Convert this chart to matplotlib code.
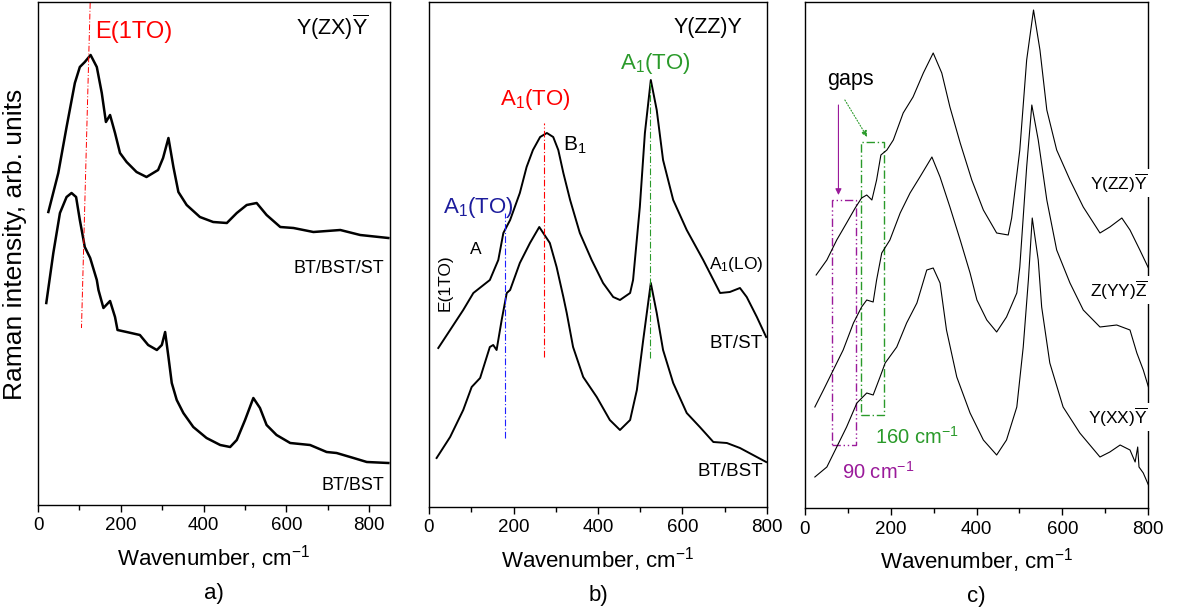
import matplotlib
matplotlib.use("Agg")
import matplotlib.pyplot as plt
from matplotlib.patches import Rectangle
from matplotlib.ticker import MultipleLocator, NullLocator

plt.rcParams["font.family"] = ["Liberation Sans", "DejaVu Sans"]
plt.rcParams["mathtext.fontset"] = "custom"
plt.rcParams["mathtext.rm"] = "Liberation Sans"
plt.rcParams["mathtext.it"] = "Liberation Sans:italic"
plt.rcParams["mathtext.bf"] = "Liberation Sans:bold"

# ---- panel a: Y(ZX)Ybar ----
a_top_x = [25, 49, 69, 89, 101, 113, 127, 142, 154, 164, 174, 186, 198, 214, 238, 262,
           290, 302, 315, 327, 339, 359, 391, 423, 456, 480, 504, 528, 552, 585, 617,
           665, 730, 778, 846]
a_top_y = [293, 332, 378, 422, 438, 443, 450, 438, 412, 383, 390, 372, 352, 343, 333, 328,
           335, 347, 367, 338, 313, 300, 288, 283, 282, 292, 300, 302, 290, 278, 277,
           273, 275, 270, 267]
a_bot_x = [20, 37, 53, 69, 81, 92, 101, 113, 126, 142, 146, 158, 174, 186, 192, 214, 246,
           266, 287, 299, 307, 315, 323, 335, 351, 375, 407, 440, 464, 480, 500, 520,
           536, 552, 576, 609, 657, 697, 721, 762, 794, 846]
a_bot_y = [202, 252, 292, 308, 312, 308, 285, 258, 247, 225, 215, 197, 204, 188, 175, 173,
           170, 160, 155, 160, 173, 148, 122, 105, 92, 78, 67, 60, 58, 65, 85, 107,
           97, 80, 70, 62, 60, 53, 52, 47, 43, 42]
a_mark_x = [126, 105]
a_mark_y = [502, 177]

# ---- panel b: Y(ZZ)Y ----
b_top_x = [22, 50, 81, 105, 144, 164, 176, 192, 215, 231, 246, 263, 279, 294, 306, 318,
           334, 357, 385, 412, 436, 452, 476, 483, 499, 511, 525, 539, 554, 578, 610,
           649, 689, 712, 736, 752, 776, 798]
b_top_y = [159, 177, 197, 214, 227, 247, 274, 287, 314, 340, 357, 370, 374, 370, 357, 334,
           307, 274, 247, 224, 210, 207, 214, 227, 300, 374, 427, 397, 347, 307, 277,
           247, 214, 215, 219, 210, 190, 170]
b_bot_x = [18, 50, 81, 101, 121, 144, 152, 160, 172, 184, 192, 215, 239, 261, 286, 302,
           318, 326, 341, 365, 397, 428, 452, 476, 492, 507, 525, 539, 554, 578, 610,
           641, 673, 705, 736, 798]
b_bot_y = [49, 70, 97, 120, 129, 160, 162, 157, 187, 214, 217, 244, 264, 280, 264, 240,
           210, 194, 160, 130, 110, 87, 77, 87, 117, 167, 224, 194, 157, 124, 94,
           80, 65, 64, 59, 45]
b_marks = [(181, 69, 294, "#1f1fff"), (273, 150, 384, "red"), (522, 149, 424, "#2a9a2a")]

# ---- panel c: three geometries ----
c_zz_x = [26, 51, 74, 97, 117, 132, 144, 156, 167, 177, 191, 206, 229, 252, 276, 299,
          319, 338, 362, 389, 416, 447, 474, 482, 501, 517, 533, 548, 564, 587, 618,
          649, 688, 711, 739, 758, 781, 801]
c_zz_y = [233, 248, 268, 285, 300, 310, 313, 308, 328, 353, 358, 368, 395, 411, 435, 455,
          435, 401, 365, 328, 298, 275, 273, 290, 358, 448, 498, 458, 398, 358, 328,
          301, 275, 281, 290, 278, 258, 240]
c_yy_x = [23, 43, 66, 89, 113, 132, 144, 159, 167, 179, 198, 222, 245, 268, 296, 315,
          338, 362, 385, 401, 424, 447, 470, 494, 501, 517, 529, 544, 564, 587, 618,
          649, 688, 727, 758, 774, 789, 801]
c_yy_y = [101, 118, 138, 158, 185, 201, 208, 206, 228, 255, 268, 295, 315, 331, 351, 331,
          301, 268, 235, 208, 188, 176, 191, 215, 241, 341, 403, 368, 308, 258, 225,
          198, 181, 183, 178, 155, 138, 121]
c_xx_x = [23, 51, 74, 97, 121, 144, 159, 175, 187, 214, 237, 261, 284, 299, 315, 330,
          354, 385, 416, 447, 470, 494, 509, 521, 530, 544, 552, 571, 602, 641, 688,
          711, 735, 758, 770, 776, 779, 789, 801]
c_xx_y = [31, 41, 61, 81, 105, 115, 113, 131, 145, 161, 185, 205, 238, 240, 225, 178,
          131, 95, 68, 53, 68, 101, 161, 228, 290, 248, 201, 145, 101, 75, 51,
          56, 63, 58, 46, 61, 41, 35, 23]
gap90 = (64, 118, 63, 308)     # x0, x1, y0, y1
gap160 = (131, 185, 93, 366)

W, H = 1190, 611
fig = plt.figure(figsize=(W / 100, H / 100), dpi=100)


def px_axes(x0, x1, y_top, y_bot):
    return fig.add_axes([x0 / W, 1 - y_bot / H, (x1 - x0) / W, (y_bot - y_top) / H])


def style(ax, xmax, ymax, label):
    ax.set_xlim(0, xmax)
    ax.set_ylim(0, ymax)
    ax.xaxis.set_major_locator(MultipleLocator(200))
    ax.xaxis.set_minor_locator(MultipleLocator(100))
    ax.yaxis.set_major_locator(NullLocator())
    ax.tick_params(axis="x", which="major", direction="out", length=5, width=1,
                   labelsize=13.5, pad=4)
    ax.tick_params(axis="x", which="minor", direction="out", length=3.5, width=1)
    for s in ax.spines.values():
        s.set_linewidth(1.0)
    ax.set_xlabel("Wavenumber, cm$^{-1}$", fontsize=16, labelpad=6)
    ax.text(0.5, -0.175, label, transform=ax.transAxes, ha="center", va="center",
            fontsize=16)


# panel a
axa = px_axes(38, 390, 2, 505)
style(axa, 850, 503, "a)")
axa.plot(a_top_x, a_top_y, color="k", lw=1.8)
axa.plot(a_bot_x, a_bot_y, color="k", lw=1.8)
axa.plot(a_mark_x, a_mark_y, color="red", lw=0.7, ls=(0, (6, 2, 1, 2)))
axa.text(138, 473, "E(1TO)", color="red", fontsize=17, ha="left", va="center")
axa.text(622, 478, r"Y(ZX)$\overline{\mathrm{Y}}$", fontsize=15.5, ha="left", va="center")
axa.text(835, 237, "BT/BST/ST", fontsize=13, ha="right", va="center")
axa.text(835, 20, "BT/BST", fontsize=13, ha="right", va="center")
fig.text(15 / W, 1 - 244 / H, "Raman intensity, arb. units", rotation=90,
         ha="center", va="center", fontsize=19)

# panel b
axb = px_axes(429, 767, 2, 507)
style(axb, 800, 505, "b)")
axb.plot(b_top_x, b_top_y, color="k", lw=1.4)
axb.plot(b_bot_x, b_bot_y, color="k", lw=1.4)
for xm, y0, y1, col in b_marks:
    axb.plot([xm, xm], [y0, y1], color=col, lw=0.8, ls=(0, (6, 2, 1, 2)))
axb.text(578, 479, "Y(ZZ)Y", fontsize=15.5, ha="left", va="center")
axb.text(452, 444, "A$_1$(TO)", color="#2a9a2a", fontsize=16, ha="left", va="center")
axb.text(167, 407, "A$_1$(TO)", color="red", fontsize=16, ha="left", va="center")
axb.text(318, 362, "B$_1$", fontsize=15, ha="left", va="center")
axb.text(33, 299, "A$_1$(TO)", color="#1c1c9c", fontsize=16, ha="left", va="center")
axb.text(110, 257, "A", fontsize=12.5, ha="center", va="center")
axb.text(37, 224, "E(1TO)", fontsize=12.5, rotation=90, ha="center", va="center")
axb.text(792, 242, "A$_1$(LO)", fontsize=12.5, ha="right", va="center")
axb.text(790, 164, "BT/ST", fontsize=13.5, ha="right", va="center")
axb.text(790, 35, "BT/BST", fontsize=13.5, ha="right", va="center")

# panel c
axc = px_axes(805, 1148, 2, 508)
style(axc, 800, 506, "c)")
axc.plot(c_zz_x, c_zz_y, color="k", lw=0.8)
axc.plot(c_yy_x, c_yy_y, color="k", lw=0.8)
axc.plot(c_xx_x, c_xx_y, color="k", lw=0.8)
purple = "#9a1a9a"
green = "#2a9a2a"
x0, x1, y0, y1 = gap90
axc.add_patch(Rectangle((x0, y0), x1 - x0, y1 - y0, fill=False, ec=purple, lw=1.0,
                        ls=(0, (6, 2, 1, 2, 1, 2))))
x0, x1, y0, y1 = gap160
axc.add_patch(Rectangle((x0, y0), x1 - x0, y1 - y0, fill=False, ec=green, lw=1.0,
                        ls=(0, (6, 2, 1, 2))))
axc.text(51, 428, "gaps", fontsize=15.5, ha="left", va="center")
axc.annotate("", xy=(78, 313), xytext=(78, 403),
             arrowprops=dict(arrowstyle="-|>", color=purple, lw=0.8,
                             mutation_scale=9, shrinkA=0, shrinkB=0))
axc.annotate("", xy=(145, 371), xytext=(93, 408),
             arrowprops=dict(arrowstyle="-|>", color=green, lw=0.8, ls=":",
                             mutation_scale=9, shrinkA=0, shrinkB=0))
axc.text(163, 71, "160 cm$^{-1}$", color=green, fontsize=14.5, ha="left", va="center")
axc.text(86, 36, "90 cm$^{-1}$", color=purple, fontsize=14.5, ha="left", va="center")
lbl_kw = dict(fontsize=12.5, ha="right", va="center", zorder=5, clip_on=False,
              bbox=dict(fc="white", ec="none", pad=1.5))
axc.text(800, 325, r"Y(ZZ)$\overline{\mathrm{Y}}$", **lbl_kw)
axc.text(800, 218, r"Z(YY)$\overline{\mathrm{Z}}$", **lbl_kw)
axc.text(800, 91, r"Y(XX)$\overline{\mathrm{Y}}$", **lbl_kw)

fig.savefig("out.png", dpi=100)
